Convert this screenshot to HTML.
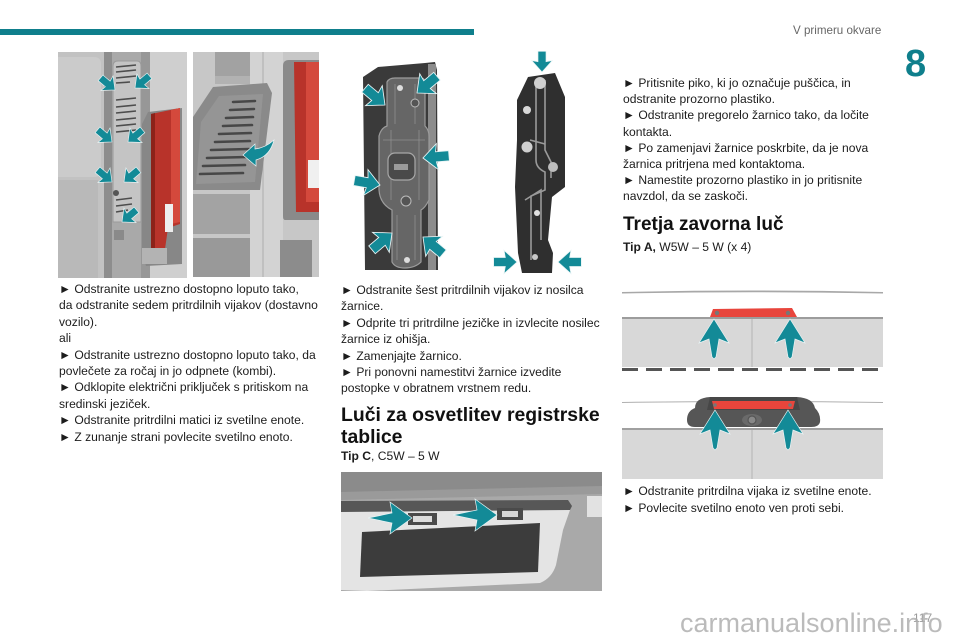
<!DOCTYPE html>
<html><head><meta charset="utf-8">
<style>
*{margin:0;padding:0;box-sizing:border-box}
html,body{width:960px;height:640px;overflow:hidden;background:#fff}
body{position:relative;font-family:"Liberation Sans",Arial,sans-serif;color:#1c1c1c}
.abs{position:absolute}
.txt{position:absolute;white-space:nowrap;font-size:12.1px;line-height:16.4px}
.h{position:absolute;white-space:nowrap;font-weight:bold;color:#111}
svg{position:absolute;overflow:hidden}
</style></head><body>

<!-- header -->
<div class="abs" style="left:0;top:29px;width:474px;height:6px;background:#0f7f8c"></div>
<div class="abs" style="left:793px;top:24px;font-size:11.6px;line-height:14px;color:#666;white-space:nowrap">V primeru okvare</div>
<div class="abs" style="left:905px;top:45px;font-size:38px;line-height:38px;font-weight:bold;color:#0f7f8c">8</div>

<!-- image 1 -->
<svg style="left:58px;top:52px" width="129" height="226" viewBox="0 0 129 226">
<rect width="129" height="226" fill="#c2c2c2"/>
<path d="M0 5 H36 Q43 5 43 12 V118 Q43 125 36 125 H0Z" fill="#cbcbcb"/>
<path d="M0 128 H40 V226 H0Z" fill="#b9b9b9"/>
<rect x="92" y="0" width="37" height="226" fill="#cfcfcf"/>
<rect x="46" y="0" width="8" height="226" fill="#8d8d8d"/>
<rect x="83" y="0" width="9" height="226" fill="#979797"/>
<rect x="54" y="0" width="29" height="226" fill="#a9a9a9"/>
<path d="M55 14 Q55 9 60 9 H79 Q83 9 83 14 V170 H55Z" fill="#c4c4c4" stroke="#9a9a9a" stroke-width="1"/>
<g stroke="#4d4d4d" stroke-width="1.6">
<line x1="58" y1="15" x2="78" y2="13"/><line x1="58" y1="20" x2="78" y2="18"/>
<line x1="58" y1="26" x2="78" y2="24"/><line x1="58" y1="31" x2="72" y2="30"/>
<line x1="58" y1="48" x2="78" y2="46"/><line x1="58" y1="55" x2="78" y2="53"/>
<line x1="58" y1="61" x2="78" y2="59"/><line x1="58" y1="68" x2="78" y2="66"/>
<line x1="58" y1="74" x2="78" y2="72"/><line x1="58" y1="80" x2="78" y2="78"/>
<line x1="58" y1="148" x2="74" y2="146"/><line x1="58" y1="154" x2="74" y2="152"/>
<line x1="58" y1="160" x2="70" y2="158"/>
</g>
<circle cx="58" cy="141" r="3" fill="#555"/>
<rect x="56" y="178" width="10" height="10" fill="#8a8a8a"/>
<path d="M84 72 L90 60 L124 56 V212 L88 214 L84 200Z" fill="#878787"/>
<path d="M93 62 L122 56 V172 L110 176 L106 204 L93 206Z" fill="#b8332a"/>
<path d="M113 58 L122 56 V170 L113 172Z" fill="#d4493c"/>
<path d="M93 62 L97 61 V205 L93 206Z" fill="#8c2219"/>
<rect x="107" y="152" width="8" height="28" fill="#eeeeee"/>
<rect x="84" y="196" width="25" height="16" fill="#b3b3b3"/>
<g fill="#138a97" stroke="#e8f4f5" stroke-width="0.6">
<path transform="translate(57,38) rotate(40) scale(1.05)" d="M0 0 L-10 -9 L-9 -3.5 L-18 -3.5 L-18 3.5 L-9 3.5 L-10 9Z"/>
<path transform="translate(77,36) rotate(140) scale(1.05)" d="M0 0 L-10 -9 L-9 -3.5 L-18 -3.5 L-18 3.5 L-9 3.5 L-10 9Z"/>
<path transform="translate(54,90) rotate(40) scale(1.05)" d="M0 0 L-10 -9 L-9 -3.5 L-18 -3.5 L-18 3.5 L-9 3.5 L-10 9Z"/>
<path transform="translate(70,90) rotate(140) scale(1.05)" d="M0 0 L-10 -9 L-9 -3.5 L-18 -3.5 L-18 3.5 L-9 3.5 L-10 9Z"/>
<path transform="translate(54,130) rotate(40) scale(1.05)" d="M0 0 L-10 -9 L-9 -3.5 L-18 -3.5 L-18 3.5 L-9 3.5 L-10 9Z"/>
<path transform="translate(66,130) rotate(140) scale(1.05)" d="M0 0 L-10 -9 L-9 -3.5 L-18 -3.5 L-18 3.5 L-9 3.5 L-10 9Z"/>
<path transform="translate(64,170) rotate(140) scale(1.05)" d="M0 0 L-10 -9 L-9 -3.5 L-18 -3.5 L-18 3.5 L-9 3.5 L-10 9Z"/>
</g>
</svg>

<!-- image 2 -->
<svg style="left:193px;top:52px" width="126" height="225" viewBox="0 0 126 225">
<rect width="126" height="225" fill="#c7c7c7"/>
<rect x="22" y="0" width="56" height="30" fill="#a2a2a2"/>
<rect x="22" y="24" width="58" height="8" fill="#b2b2b2"/>
<rect x="57" y="0" width="33" height="225" fill="#d3d3d3"/>
<line x1="70" y1="0" x2="70" y2="225" stroke="#acacac" stroke-width="1"/>
<path d="M0 65 L20 35 L74 31 L79 41 L67 138 L0 138Z" fill="#8a8a8a"/>
<path d="M8 70 L26 44 L70 42 L62 130 L3 132Z" fill="#959595"/>
<g stroke="#474747" stroke-width="2.6" stroke-linecap="round">
<line x1="40" y1="50" x2="62" y2="49"/><line x1="37" y1="58" x2="61" y2="57"/>
<line x1="33" y1="66" x2="60" y2="65"/><line x1="30" y1="74" x2="59" y2="73"/>
<line x1="26" y1="82" x2="58" y2="81"/><line x1="22" y1="90" x2="57" y2="89"/>
<line x1="18" y1="98" x2="56" y2="97"/><line x1="14" y1="106" x2="54" y2="105"/>
<line x1="10" y1="114" x2="52" y2="113"/><line x1="7" y1="122" x2="50" y2="121"/>
</g>
<rect x="0" y="142" width="57" height="40" fill="#a3a3a3"/>
<rect x="0" y="186" width="57" height="39" fill="#999"/>
<path d="M96 8 H126 V168 H92 Q90 168 90 164 V14 Q90 8 96 8Z" fill="#8a8a8a"/>
<path d="M101 10 H126 V160 H103 Z" fill="#b8332a"/>
<path d="M113 10 H126 V150 H113Z" fill="#d4493c"/>
<rect x="115" y="108" width="11" height="28" fill="#f0f0f0"/>
<rect x="87" y="188" width="32" height="37" fill="#8c8c8c"/>
<path d="M50 103 L62 92 L62 97 Q72 96 81 88 Q77 104 63 108 L63 114Z" fill="#138a97" stroke="#e8f4f5" stroke-width="0.7"/>
</svg>

<!-- images 3 & 4 -->
<svg style="left:335px;top:40px" width="280" height="240" viewBox="0 0 280 240">
<path d="M28 37 L43 27 L90 23 L100 22 L102 30 L103 230 L30 230Z" fill="#3a3a3a"/>
<rect x="93" y="24" width="8" height="206" fill="#8c8c8c"/>
<path d="M52 42 Q54 38 60 38 H86 Q90 38 90 44 V86 Q94 90 94 96 V160 Q90 168 86 170 V222 Q80 228 70 228 Q60 228 57 222 V170 Q45 164 44 150 V96 Q46 88 52 86Z" fill="#666" stroke="#9c9c9c" stroke-width="1.2"/>
<g stroke="#8f8f8f" stroke-width="0.8" fill="none">
<path d="M60 44 V84 M80 44 V84 M48 100 H90 M56 90 V160 M84 90 V160 M62 175 V220 M80 175 V220"/>
</g>
<rect x="53" y="113" width="27" height="27" rx="7" fill="#4a4a4a" stroke="#a8a8a8" stroke-width="1.2"/>
<rect x="59" y="124" width="14" height="6" fill="#9a9a9a"/>
<circle cx="80" cy="63" r="4" fill="#555" stroke="#bbb" stroke-width="1"/>
<circle cx="71" cy="161" r="5" fill="#555" stroke="#bbb" stroke-width="1"/>
<circle cx="72" cy="220" r="3" fill="#ddd"/>
<circle cx="65" cy="48" r="3" fill="#ddd"/>
<!-- bulb holder -->
<path d="M182 60 L193 37 L220 33 L230 57 L230 147 L217 157 L213 200 L218 213 L217 233 L187 233 L183 213 L180 147 L182 100Z" fill="#2f2f2f"/>
<g stroke="#9a9a9a" stroke-width="1.6" fill="none">
<path d="M201 40 V120 Q201 128 210 132 V150 L196 156 V220"/>
<path d="M210 40 V110 L216 122 V138"/>
<path d="M195 100 L210 104"/>
<path d="M190 160 L206 150 V200"/>
</g>
<circle cx="205" cy="43" r="6" fill="#cfcfcf"/>
<circle cx="192" cy="70" r="4" fill="#d8d8d8"/>
<circle cx="192" cy="107" r="5.5" fill="#cfcfcf"/>
<circle cx="218" cy="127" r="5" fill="#bdbdbd"/>
<circle cx="202" cy="173" r="3" fill="#e0e0e0"/>
<circle cx="200" cy="217" r="3" fill="#c8c8c8"/>
<g fill="#138a97" stroke="#e8f4f5" stroke-width="0.6">
<path transform="translate(50,65) rotate(40) scale(1.45)" d="M0 0 L-10 -9 L-9 -3.5 L-18 -3.5 L-18 3.5 L-9 3.5 L-10 9Z"/>
<path transform="translate(82,53) rotate(140) scale(1.45)" d="M0 0 L-10 -9 L-9 -3.5 L-18 -3.5 L-18 3.5 L-9 3.5 L-10 9Z"/>
<path transform="translate(88,118) rotate(175) scale(1.45)" d="M0 0 L-10 -9 L-9 -3.5 L-18 -3.5 L-18 3.5 L-9 3.5 L-10 9Z"/>
<path transform="translate(45,145) rotate(10) scale(1.45)" d="M0 0 L-10 -9 L-9 -3.5 L-18 -3.5 L-18 3.5 L-9 3.5 L-10 9Z"/>
<path transform="translate(57,193) rotate(-40) scale(1.45)" d="M0 0 L-10 -9 L-9 -3.5 L-18 -3.5 L-18 3.5 L-9 3.5 L-10 9Z"/>
<path transform="translate(88,197) rotate(-140) scale(1.45)" d="M0 0 L-10 -9 L-9 -3.5 L-18 -3.5 L-18 3.5 L-9 3.5 L-10 9Z"/>
<path transform="translate(207,32) rotate(90) scale(1.15)" d="M0 0 L-10 -9 L-9 -3.5 L-18 -3.5 L-18 3.5 L-9 3.5 L-10 9Z"/>
<path transform="translate(182,222) rotate(0) scale(1.3)" d="M0 0 L-10 -9 L-9 -3.5 L-18 -3.5 L-18 3.5 L-9 3.5 L-10 9Z"/>
<path transform="translate(223,222) rotate(180) scale(1.3)" d="M0 0 L-10 -9 L-9 -3.5 L-18 -3.5 L-18 3.5 L-9 3.5 L-10 9Z"/>
</g>
</svg>

<!-- plate light image -->
<svg style="left:340px;top:460px" width="270" height="140" viewBox="0 0 270 140">
<rect x="1" y="12" width="261" height="119" fill="#a9a9a9"/>
<rect x="1" y="12" width="261" height="20" fill="#8b8b8b"/>
<path d="M1 32 L262 26 V34 L1 40Z" fill="#9a9a9a"/>
<path d="M1 50 L1 130 L27 131 L200 123 Q212 118 216 105 L223 70 L230 50Z" fill="#e4e4e4"/>
<path d="M1 41 L228 40 L232 46 L230 50 L1 52Z" fill="#575757"/>
<path d="M22 72 L200 63 L198 112 L20 117Z" fill="#3c3c3c"/>
<rect x="247" y="36" width="15" height="21" fill="#e2e2e2"/>
<rect x="68" y="53" width="29" height="12" fill="#4a4a4a"/>
<rect x="73" y="56" width="19" height="6" fill="#dcdcdc"/>
<rect x="157" y="48" width="26" height="12" fill="#4a4a4a"/>
<rect x="162" y="51" width="16" height="6" fill="#d8d8d8"/>
<g fill="#138a97" stroke="#e8f4f5" stroke-width="0.7">
<path transform="translate(72,58)" d="M0 0 L-22 -16 L-20 -5 L-44 0 L-20 5 L-22 16Z"/>
<path transform="translate(157,55)" d="M0 0 L-22 -16 L-20 -5 L-44 0 L-20 5 L-22 16Z"/>
</g>
</svg>

<!-- third brake light image -->
<svg style="left:615px;top:280px" width="280" height="210" viewBox="0 0 280 210">
<path d="M7 12 Q137 9 268 12 L268 13.5 Q137 11 7 13.5Z" fill="#a8a8a8"/>
<rect x="7" y="37" width="261" height="50" fill="#d8d8d8"/>
<rect x="7" y="37" width="261" height="2" fill="#9c9c9c"/>
<line x1="137" y1="39" x2="137" y2="87" stroke="#b3b3b3" stroke-width="1"/>
<line x1="7" y1="89.5" x2="268" y2="89.5" stroke="#555" stroke-width="3" stroke-dasharray="16 8"/>
<path d="M95 37 L98 29 L177 28 L182 37Z" fill="#e8453c"/>
<circle cx="102" cy="33" r="2.2" fill="#777"/><circle cx="173" cy="33" r="2.2" fill="#777"/>
<path d="M7 122 Q137 120 268 122 V123 Q137 121 7 123Z" fill="#b0b0b0"/>
<rect x="7" y="148" width="261" height="51" fill="#d8d8d8"/>
<rect x="7" y="148" width="261" height="2" fill="#a0a0a0"/>
<line x1="137" y1="150" x2="137" y2="199" stroke="#b3b3b3" stroke-width="1"/>
<path d="M80 128 Q80 118 95 117 H182 Q198 118 200 128 Q206 134 205 142 Q204 147 196 147 H80 Q72 147 72 140 Q72 131 80 128Z" fill="#565656"/>
<path d="M95 117 H182 L185 130 H92Z" fill="#474747"/>
<path d="M97 121 H180 L178 129 H99Z" fill="#e8453c"/>
<circle cx="100" cy="125" r="1.8" fill="#777"/><circle cx="175" cy="125" r="1.8" fill="#777"/>
<ellipse cx="137" cy="140" rx="10" ry="6" fill="#6a6a6a"/>
<circle cx="137" cy="140" r="4" fill="#888" stroke="#555" stroke-width="1.2"/>
<g fill="#138a97" stroke="#e8f4f5" stroke-width="0.7">
<path transform="translate(99,39)" d="M0 0 L15 24 L5 20 L2 38 L0 40 L-2 38 L-5 20 L-15 24Z"/>
<path transform="translate(175,39)" d="M0 0 L15 24 L5 20 L2 38 L0 40 L-2 38 L-5 20 L-15 24Z"/>
<path transform="translate(100,130)" d="M0 0 L15 24 L5 20 L2 38 L0 40 L-2 38 L-5 20 L-15 24Z"/>
<path transform="translate(173,130)" d="M0 0 L15 24 L5 20 L2 38 L0 40 L-2 38 L-5 20 L-15 24Z"/>
</g>
</svg>

<!-- column 1 text -->
<div class="txt" style="left:59px;top:281px">
<div>► Odstranite ustrezno dostopno loputo tako,</div>
<div>da odstranite sedem pritrdilnih vijakov (dostavno</div>
<div>vozilo).</div>
<div>ali</div>
<div>► Odstranite ustrezno dostopno loputo tako, da</div>
<div>povlečete za ročaj in jo odpnete (kombi).</div>
<div>► Odklopite električni priključek s pritiskom na</div>
<div>sredinski jeziček.</div>
<div>► Odstranite pritrdilni matici iz svetilne enote.</div>
<div>► Z zunanje strani povlecite svetilno enoto.</div>
</div>

<!-- column 2 text -->
<div class="txt" style="left:341px;top:282px">
<div>► Odstranite šest pritrdilnih vijakov iz nosilca</div>
<div>žarnice.</div>
<div>► Odprite tri pritrdilne jezičke in izvlecite nosilec</div>
<div>žarnice iz ohišja.</div>
<div>► Zamenjajte žarnico.</div>
<div>► Pri ponovni namestitvi žarnice izvedite</div>
<div>postopke v obratnem vrstnem redu.</div>
</div>
<div class="h" style="left:341px;top:404px;font-size:19.4px;line-height:22px">Luči za osvetlitev registrske<br>tablice</div>
<div class="txt" style="left:341px;top:448px"><b>Tip C</b>, C5W – 5 W</div>

<!-- column 3 text -->
<div class="txt" style="left:623px;top:75px;line-height:16.2px">
<div>► Pritisnite piko, ki jo označuje puščica, in</div>
<div>odstranite prozorno plastiko.</div>
<div>► Odstranite pregorelo žarnico tako, da ločite</div>
<div>kontakta.</div>
<div>► Po zamenjavi žarnice poskrbite, da je nova</div>
<div>žarnica pritrjena med kontaktoma.</div>
<div>► Namestite prozorno plastiko in jo pritisnite</div>
<div>navzdol, da se zaskoči.</div>
</div>
<div class="h" style="left:623px;top:214px;font-size:19px;line-height:22px">Tretja zavorna luč</div>
<div class="txt" style="left:623px;top:239px"><b>Tip A,</b> W5W – 5 W (x 4)</div>

<div class="txt" style="left:623px;top:483px;line-height:16.6px">
<div>► Odstranite pritrdilna vijaka iz svetilne enote.</div>
<div>► Povlecite svetilno enoto ven proti sebi.</div>
</div>

<!-- page number & watermark -->
<div class="abs" style="left:913px;top:611px;font-size:12px;line-height:14px;color:#9a9a9a">117</div>
<div class="abs" style="left:680px;top:610px;font-size:27px;line-height:27px;color:rgba(175,175,175,0.85);white-space:nowrap">carmanualsonline.info</div>

</body></html>
